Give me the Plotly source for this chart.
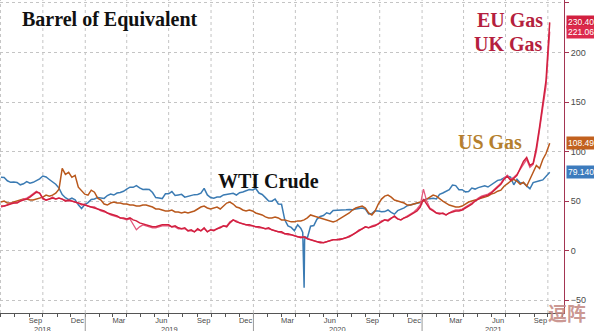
import pandas as pd
import plotly.graph_objects as go

# Weekly observations (Mondays from 2018-07-02) plus the last print on 2021-10-05,
# all expressed in USD per barrel of oil equivalent.
week_start = "2018-07-02"
n_weeks = 170
last_date = "2021-10-05"

wti_crude = [
    74.1, 73.8, 70.5, 68.9, 69.3, 68.8, 66.4, 67.4, 69.6, 68.1, 68.9, 70.8, 72.5,
    75.3, 74.3, 71.8, 69.2, 67.0, 63.1, 56.5, 53.4, 51.5, 52.9, 51.2, 46.2, 42.5,
    46.5, 48.5, 51.6, 52.1, 53.7, 53.3, 52.7, 55.6, 57.0, 56.1, 58.1, 58.6, 59.9,
    62.1, 64.0, 63.9, 65.6, 63.3, 61.7, 62.0, 61.7, 58.6, 53.5, 53.0, 52.5, 57.4,
    57.3, 59.6, 55.6, 56.2, 56.8, 54.0, 55.0, 55.3, 56.5, 56.7, 58.0, 62.9, 56.2,
    53.6, 52.8, 54.0, 54.2, 56.2, 56.5, 57.1, 57.8, 56.1, 58.4, 59.2, 60.6, 61.7,
    61.2, 62.7, 58.1, 56.7, 53.5, 50.1, 49.9, 52.1, 47.1, 46.8, 31.1, 25.0, 23.4,
    20.1, 26.1, 22.4, -37.6, 12.8, 24.6, 25.3, 31.8, 34.4, 35.4, 38.2, 37.1, 40.5,
    40.6, 40.6, 40.6, 41.3, 41.6, 41.2, 41.9, 42.3, 42.9, 41.9, 37.0, 37.3, 40.3,
    39.9, 39.2, 39.4, 41.0, 38.6, 36.8, 40.3, 41.4, 43.1, 45.3, 45.8, 47.0, 47.7,
    48.4, 50.6, 52.4, 52.4, 52.8, 52.2, 56.9, 58.2, 59.5, 61.5, 66.1, 65.6, 61.4,
    61.5, 59.3, 59.7, 63.1, 62.1, 63.6, 64.9, 65.4, 64.2, 66.3, 68.8, 70.9, 71.6,
    73.5, 75.2, 74.1, 66.4, 71.9, 68.3, 68.4, 65.5, 62.3, 68.7, 69.3, 70.5, 71.4, 75.5,
    79.140,
]

us_gas = [
    49, 50, 48, 48, 49, 50, 51, 52, 52, 51, 51, 52, 53,
    54, 56, 55, 56, 58, 62, 83, 77, 79, 74, 76, 64, 60,
    57, 56, 61, 59, 53, 51, 47, 46, 48, 49, 48, 48, 47,
    47, 46, 46, 45, 45, 46, 46, 45, 44, 42, 42, 41, 40,
    40, 41, 39, 39, 38, 39, 38, 39, 40, 42, 44, 45, 43,
    42, 43, 44, 42, 45, 48, 49, 47, 44, 43, 41, 40, 41,
    40, 38, 37, 36, 34, 33, 33, 34, 33, 31, 31, 30, 29,
    29, 30, 30, 31, 33, 36, 35, 34, 33, 32, 31, 30, 29,
    30, 32, 34, 36, 38, 41, 43, 44, 45, 43, 38, 36, 40,
    47, 52, 55, 56, 54, 51, 50, 49, 48, 46, 46, 47, 48,
    49, 50, 52, 54, 56, 55, 52, 50, 48, 46, 45, 44, 44,
    45, 47, 49, 50, 51, 52, 53, 54, 55, 57, 58, 60, 61,
    65, 68, 70, 72, 70, 67, 69, 65, 72, 80, 86, 83, 92, 98,
    108.496,
]

eu_gas = [
    45, 45, 46, 47, 48, 48, 50, 51, 52, 54, 57, 59, 58,
    53, 51, 52, 53, 52, 53, 52, 50, 51, 50, 49, 48, 47,
    46, 45, 44, 43, 42, 41, 40, 38, 37, 36, 35, 33, 33,
    32, 33, 31, 30, 28, 27, 26, 25, 24, 24, 25, 26, 26,
    26, 24, 25, 23, 22, 23, 20, 21, 19, 22, 20, 23, 19,
    21, 20, 22, 23, 25, 24, 28, 31, 29, 28, 27, 26, 26,
    25, 24, 24, 23, 22, 23, 21, 20, 19, 19, 17, 17, 16,
    15, 14, 13, 14, 12, 11, 10, 9, 8, 8, 9, 10, 11,
    11, 11, 12, 13, 14, 16, 18, 20, 22, 24, 23, 24, 25,
    27, 29, 31, 30, 33, 35, 32, 31, 33, 34, 36, 38, 40,
    44, 52, 47, 42, 40, 38, 37, 38, 36, 38, 39, 40, 40,
    41, 43, 45, 47, 50, 52, 54, 55, 56, 58, 61, 64, 67,
    72, 75, 71, 73, 76, 84, 90, 94, 86, 88, 104, 125, 148, 172,
    230.405,
]

uk_gas = [
    44, 45, 46, 48, 48, 49, 50, 52, 53, 55, 58, 60, 58,
    52, 51, 52, 54, 52, 53, 52, 51, 50, 50, 49, 48, 46,
    47, 45, 44, 44, 42, 40, 39, 38, 36, 35, 34, 33, 32,
    31, 32, 27, 21, 24, 26, 25, 24, 23, 23, 24, 25, 25,
    25, 24, 24, 22, 22, 22, 20, 20, 19, 21, 20, 22, 19,
    21, 21, 22, 24, 25, 25, 29, 31, 30, 28, 27, 26, 25,
    25, 24, 23, 23, 22, 22, 21, 20, 19, 18, 17, 16, 16,
    15, 14, 14, 13, 12, 11, 10, 9, 9, 8, 9, 10, 11,
    11, 12, 12, 13, 15, 16, 18, 21, 22, 24, 23, 25, 26,
    27, 30, 31, 31, 33, 34, 32, 31, 33, 35, 37, 39, 42,
    46, 62, 50, 43, 41, 38, 38, 37, 36, 38, 40, 41, 41,
    42, 44, 46, 48, 50, 53, 55, 56, 57, 59, 62, 64, 68,
    73, 76, 72, 74, 77, 82, 88, 92, 84, 87, 100, 121, 142, 166,
    221.062,
]

# Daily WTI settlements around the negative print
wti_extra_dates = ["2020-04-17", "2020-04-21", "2020-04-22"]
wti_extra_values = [18.3, 10.0, 13.8]

dates = list(pd.date_range(week_start, periods=n_weeks, freq="7D")) + [pd.Timestamp(last_date)]
for s in (wti_crude, us_gas, eu_gas, uk_gas):
    assert len(s) == len(dates)

wti = pd.Series(wti_crude, index=dates)
wti = pd.concat([wti, pd.Series(wti_extra_values, index=pd.to_datetime(wti_extra_dates))]).sort_index()

x_start, x_end = pd.Timestamp("2018-06-30"), pd.Timestamp("2021-11-05")

BLUE = "#3b7bb3"
ORANGE = "#b9581c"
RED = "#d21f3f"
PINK = "#e4577c"
LABEL_RED = "#b51f3e"
LABEL_GOLD = "#b57f2e"

fig = go.Figure()
fig.add_trace(go.Scatter(x=wti.index, y=wti.values, mode="lines",
                         line=dict(color=BLUE, width=1.5), name="WTI Crude"))
fig.add_trace(go.Scatter(x=dates, y=us_gas, mode="lines",
                         line=dict(color=ORANGE, width=1.5), name="US Gas"))
fig.add_trace(go.Scatter(x=dates, y=uk_gas, mode="lines",
                         line=dict(color=PINK, width=1.3), name="UK Gas"))
fig.add_trace(go.Scatter(x=dates, y=eu_gas, mode="lines",
                         line=dict(color=RED, width=1.5), name="EU Gas"))

# x axis: month names centred on mid-month, small ticks at month starts
label_months = pd.date_range("2018-09-15", "2021-09-15", freq=pd.DateOffset(months=3))
month_starts = pd.date_range("2018-07-01", "2021-11-01", freq="MS")
quarter_starts = pd.date_range("2018-07-01", "2021-10-01", freq="QS")
year_starts = pd.date_range("2019-01-01", "2021-01-01", freq="YS")
years = [2018, 2019, 2020, 2021]

shapes = []
for q in quarter_starts:
    shapes.append(dict(type="line", xref="x", yref="paper", x0=q, x1=q, y0=0, y1=1,
                       line=dict(color="#c4c4c4", width=1, dash="dot"), layer="below"))
for ys in year_starts:
    shapes.append(dict(type="line", xref="x", yref="paper", x0=ys, x1=ys, y0=0, y1=-0.07,
                       line=dict(color="#9a9a9a", width=1)))

annotations = []
for yr in years:
    a = max(pd.Timestamp(yr, 1, 1), x_start)
    b = min(pd.Timestamp(yr + 1, 1, 1), x_end)
    mid = a + (b - a) / 2
    annotations.append(dict(x=mid, xref="x", y=-0.052, yref="paper", text=str(yr),
                            showarrow=False, yanchor="middle",
                            font=dict(family="Liberation Sans", size=7.5, color="#4a4a4a")))

serif = "Liberation Serif"
def series_label(text, x, y, color, anchor="left"):
    return dict(x=x, y=y, xref="paper", yref="paper", text="<b>" + text + "</b>",
                showarrow=False, xanchor=anchor, yanchor="middle",
                font=dict(family=serif, size=20, color=color))

W, H = 564, 313
annotations += [
    series_label("Barrel of Equivalent", 20 / W, 1 - 19 / H, "#111111"),
    series_label("EU Gas", 545 / W, 1 - 20 / H, LABEL_RED, "right"),
    series_label("UK Gas", 545 / W, 1 - 44 / H, LABEL_RED, "right"),
    series_label("US Gas", 524 / W, 1 - 142 / H, LABEL_GOLD, "right"),
    series_label("WTI Crude", 216 / W, 1 - 181 / H, "#111111"),
]

# value tags on the right axis, taken from the last observation of each series
tags = [(eu_gas[-1], "#d21f3f"), (uk_gas[-1], "#dc2a4c"),
        (us_gas[-1], "#c2611e"), (wti_crude[-1], "#3c7bbd")]
for val, col in tags:
    annotations.append(dict(x=1, xref="paper", y=val, yref="y", xanchor="left", yanchor="middle",
                            xshift=2, text=f"{val:.3f}", showarrow=False, bgcolor=col,
                            borderpad=1, font=dict(family="Liberation Sans", size=8.5, color="white")))

annotations.append(dict(x=567 / W, y=1 - 312 / H, xref="paper", yref="paper", text="<b>逗阵</b>",
                        showarrow=False, xanchor="center", yanchor="middle",
                        font=dict(family="Noto Sans CJK SC", size=19, color="rgba(196,138,132,0.9)")))

fig.update_layout(
    width=594, height=331,
    margin=dict(l=0, r=30, t=0, b=18),
    paper_bgcolor="white", plot_bgcolor="white",
    showlegend=False,
    shapes=shapes,
    annotations=annotations,
    xaxis=dict(
        type="date", range=[x_start, x_end],
        tickmode="array", tickvals=list(label_months),
        ticktext=[d.strftime("%b") for d in label_months],
        ticks="", showgrid=False, zeroline=False,
        showline=True, linecolor="#555555", linewidth=1,
        tickfont=dict(family="Liberation Sans", size=7.5, color="#4a4a4a"),
        minor=dict(tickmode="array", tickvals=list(month_starts), ticks="outside",
                   ticklen=3, tickcolor="#555555", showgrid=False),
    ),
    yaxis=dict(
        side="right", range=[-63, 253],
        tickmode="linear", tick0=-50, dtick=50,
        showgrid=True, gridcolor="#c4c4c4", griddash="dot", gridwidth=1,
        zeroline=False, showline=True, linecolor="#a33552", linewidth=1,
        ticks="outside", ticklen=4, tickcolor="#a33552",
        tickfont=dict(family="Liberation Sans", size=9, color="#4a4a4a"),
    ),
)

fig.write_html("out.html")
